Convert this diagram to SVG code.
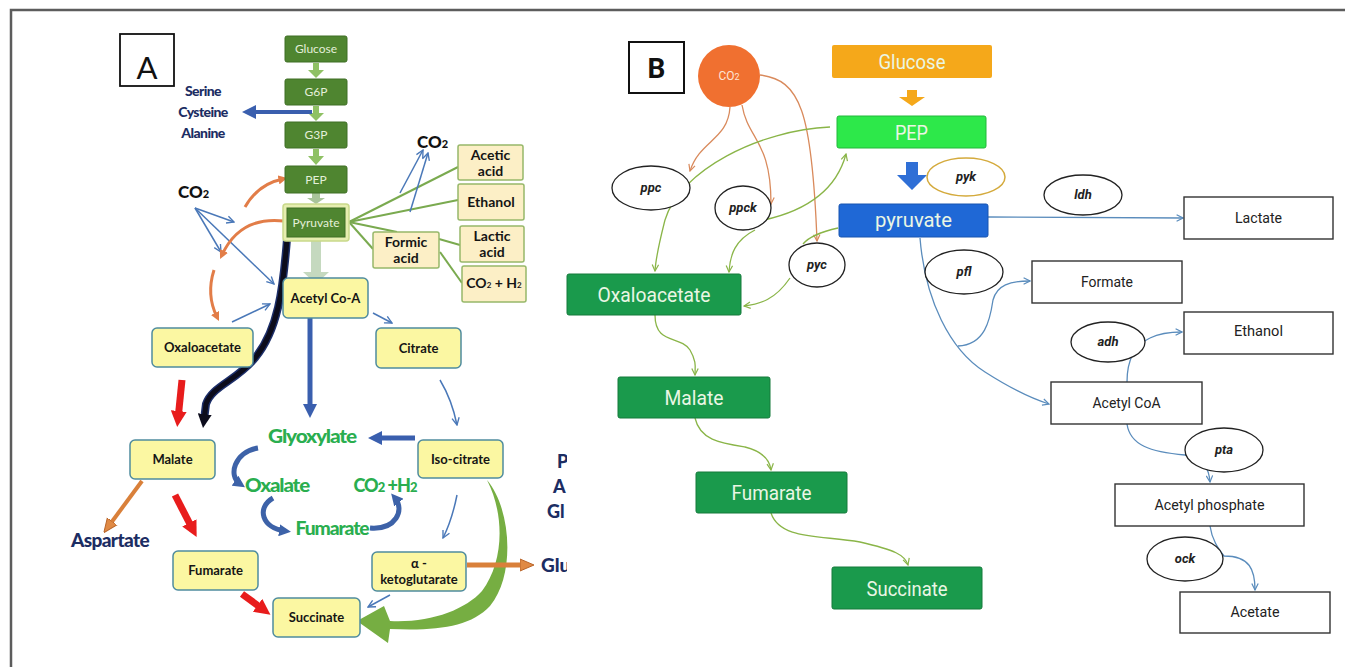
<svg xmlns="http://www.w3.org/2000/svg" width="1345" height="667" viewBox="0 0 1345 667">
<style>
.fa{font-family:"Lato","Liberation Sans",sans-serif}
.fb{font-family:"Roboto","Liberation Sans",sans-serif}
.gbox{fill:#4f8530;stroke:#3f6e25;stroke-width:1}
.gtxt{fill:#e4efd9;font-size:12px;text-anchor:middle}
.ybox{fill:#fbf7a2;stroke:#4f8c9e;stroke-width:1.5}
.ytxt{fill:#151515;font-size:13px;font-weight:bold;text-anchor:middle}
.cbox{fill:#fcefc6;stroke:#97b86a;stroke-width:1.5}
.ctxt{fill:#151515;font-size:14px;font-weight:bold;text-anchor:middle}
.navy{fill:#1c2d63;font-weight:900;text-anchor:middle}
.grn{fill:#2aae4f;font-weight:900;font-size:18px;text-anchor:middle;letter-spacing:-1px}
.bgreen{fill:#1a9a4c;stroke:#147a3b;stroke-width:1}
.btxt{fill:#eaf6e4;font-size:21px;text-anchor:middle}
.wbox{fill:#ffffff;stroke:#333;stroke-width:1.4}
.wtxt{fill:#222;font-size:15px;text-anchor:middle}
.ell{fill:#ffffff;stroke:#222;stroke-width:1.3}
.etxt{fill:#222;font-size:13px;font-style:italic;font-weight:bold;text-anchor:middle}
.thinblue{fill:none;stroke:#4a78b8;stroke-width:1.5}
.glin{fill:none;stroke:#7aaa4f;stroke-width:2}
.og{fill:none;stroke:#d98a5c;stroke-width:1.3}
.gg{fill:none;stroke:#8ab548;stroke-width:1.3}
.bb{fill:none;stroke:#5a8cbc;stroke-width:1.3}
</style>
<defs>
<marker id="mThinBlue" viewBox="0 0 10 10" markerWidth="9" markerHeight="9" refX="9" refY="5" orient="auto" markerUnits="userSpaceOnUse"><path d="M1,1 L9,5 L1,9" fill="none" stroke="#4a78b8" stroke-width="1.5"/></marker>
<marker id="mOg" viewBox="0 0 10 10" markerWidth="8" markerHeight="8" refX="9" refY="5" orient="auto" markerUnits="userSpaceOnUse"><path d="M1,1 L9,5 L1,9" fill="none" stroke="#d98a5c" stroke-width="1.5"/></marker>
<marker id="mGg" viewBox="0 0 10 10" markerWidth="8" markerHeight="8" refX="9" refY="5" orient="auto" markerUnits="userSpaceOnUse"><path d="M1,1 L9,5 L1,9" fill="none" stroke="#8ab548" stroke-width="1.5"/></marker>
<marker id="mBb" viewBox="0 0 10 10" markerWidth="8" markerHeight="8" refX="9" refY="5" orient="auto" markerUnits="userSpaceOnUse"><path d="M1,1 L9,5 L1,9" fill="none" stroke="#5a8cbc" stroke-width="1.5"/></marker>
<marker id="mRed" viewBox="0 0 16 16" markerWidth="16" markerHeight="16" refX="8" refY="8" orient="auto" markerUnits="userSpaceOnUse"><path d="M0,0 L16,8 L0,16 Z" fill="#e81c1c"/></marker>
<marker id="mBlueT" viewBox="0 0 14 14" markerWidth="14" markerHeight="14" refX="7" refY="7" orient="auto" markerUnits="userSpaceOnUse"><path d="M0,0 L14,7 L0,14 Z" fill="#3a5fae"/></marker>
<marker id="mBlueC" viewBox="0 0 12 12" markerWidth="12" markerHeight="12" refX="6" refY="6" orient="auto" markerUnits="userSpaceOnUse"><path d="M0,0 L12,6 L0,12 Z" fill="#3d62a8"/></marker>
<marker id="mOrA" viewBox="0 0 14 14" markerWidth="14" markerHeight="14" refX="7" refY="7" orient="auto" markerUnits="userSpaceOnUse"><path d="M0,1 L14,7 L0,13 Z" fill="#e08a45" stroke="#b8652a" stroke-width="1"/></marker>
<marker id="mOrArc" viewBox="0 0 10 10" markerWidth="9" markerHeight="9" refX="5" refY="5" orient="auto" markerUnits="userSpaceOnUse"><path d="M0,0 L10,5 L0,10 Z" fill="#e27d48"/></marker>
<marker id="mBlack" viewBox="0 0 14 14" markerWidth="14" markerHeight="14" refX="6" refY="7" orient="auto" markerUnits="userSpaceOnUse"><path d="M0,0 L14,7 L0,14 Z" fill="#0c0c1c"/></marker>
<clipPath id="clipA"><rect x="0" y="0" width="567" height="667"/></clipPath>
</defs>

<rect x="0" y="0" width="1345" height="667" fill="#ffffff"/>
<g id="frame" fill="none" stroke="#5c5c5c" stroke-width="2.5">
<path d="M11,667 L11,10 L1345,10"/>
</g>

<!-- ================= PANEL A ================= -->
<g id="labelA"><rect x="120" y="34" width="54" height="52" fill="#fff" stroke="#111" stroke-width="1.8"/><text x="147" y="79" class="fa" font-size="31" text-anchor="middle" fill="#111">A</text></g>

<g id="connectorsA">
<path d="M313,63 L319,63 L319,70 L324,70 L316,78 L308,70 L313,70 Z" fill="#8fc164"/>
<path d="M313,106 L319,106 L319,113 L324,113 L316,121 L308,113 L313,113 Z" fill="#8fc164"/>
<path d="M313,149 L319,149 L319,156 L324,156 L316,165 L308,156 L313,156 Z" fill="#8fc164"/>
<path d="M312,193 L320,193 L320,198 L325,198 L316,204 L307,198 L312,198 Z" fill="#a9c49a"/>
<line x1="312" y1="112" x2="249" y2="112" stroke="#3a5fae" stroke-width="4" marker-end="url(#mBlueT)"/>
<path d="M311,241 L321,241 L321,272 L329,272 L316,284 L303,272 L311,272 Z" fill="#c5d9bf"/>
<line x1="349" y1="222" x2="458" y2="167" class="glin"/>
<line x1="349" y1="222" x2="458" y2="200" class="glin"/>
<line x1="349" y1="222" x2="397" y2="232" class="glin"/>
<line x1="349" y1="222" x2="373" y2="249" class="glin"/>
<line x1="439" y1="239" x2="460" y2="245" class="glin"/>
<line x1="440" y1="252" x2="462" y2="283" class="glin"/>
<line x1="400" y1="193" x2="423" y2="150" class="thinblue" marker-end="url(#mThinBlue)"/>
<line x1="410" y1="212" x2="428" y2="153" class="thinblue" marker-end="url(#mThinBlue)"/>
<line x1="195" y1="208" x2="234" y2="222" class="thinblue" marker-end="url(#mThinBlue)"/>
<line x1="195" y1="208" x2="221" y2="252" class="thinblue" marker-end="url(#mThinBlue)"/>
<line x1="195" y1="208" x2="274" y2="284" class="thinblue" marker-end="url(#mThinBlue)"/>
<line x1="232" y1="322" x2="270" y2="304" class="thinblue" marker-end="url(#mThinBlue)"/>
<path d="M245,207 Q258,184 283,179" fill="none" stroke="#e27d48" stroke-width="3" marker-end="url(#mOrArc)"/>
<path d="M284,221 Q240,216 222,255" fill="none" stroke="#e27d48" stroke-width="3" marker-end="url(#mOrArc)"/>
<path d="M214,270 Q206,295 217,317" fill="none" stroke="#e27d48" stroke-width="3" marker-end="url(#mOrArc)"/>
<path d="M287,239 C283,290 278,330 255,358 C236,381 212,386 206,404 L204,420" fill="none" stroke="#1d2f6a" stroke-width="8"/>
<path d="M287,239 C283,290 278,330 255,358 C236,381 212,386 206,404 L204,420" fill="none" stroke="#0c0c1c" stroke-width="5" marker-end="url(#mBlack)"/>
<line x1="182" y1="380" x2="178" y2="419" stroke="#e81c1c" stroke-width="7" marker-end="url(#mRed)"/>
<line x1="175" y1="495" x2="193" y2="530" stroke="#e81c1c" stroke-width="7" marker-end="url(#mRed)"/>
<line x1="242" y1="594" x2="264" y2="610" stroke="#e81c1c" stroke-width="7" marker-end="url(#mRed)"/>
<line x1="142" y1="481" x2="108" y2="527" stroke="#d9803a" stroke-width="4" marker-end="url(#mOrA)"/>
<line x1="373" y1="313" x2="392" y2="323" class="thinblue" marker-end="url(#mThinBlue)"/>
<path d="M440,380 Q452,400 457,425" class="thinblue" marker-end="url(#mThinBlue)"/>
<path d="M457,495 Q452,520 443,538" class="thinblue" marker-end="url(#mThinBlue)"/>
<line x1="390" y1="595" x2="368" y2="607" class="thinblue" marker-end="url(#mThinBlue)"/>
<line x1="310" y1="307" x2="310" y2="411" stroke="#3a5fae" stroke-width="5" marker-end="url(#mBlueT)"/>
<line x1="415" y1="438" x2="375" y2="438" stroke="#3a5fae" stroke-width="5" marker-end="url(#mBlueT)"/>
<path d="M258,448 C234,452 228,476 240,484" fill="none" stroke="#3d62a8" stroke-width="5" marker-end="url(#mBlueC)"/>
<path d="M273,498 C256,508 262,528 285,531" fill="none" stroke="#3d62a8" stroke-width="5" marker-end="url(#mBlueC)"/>
<path d="M370,528 C396,530 405,510 395,498" fill="none" stroke="#3d62a8" stroke-width="5" marker-end="url(#mBlueC)"/>
<path d="M487,480 C511,508 516,575 490,606 C470,627 438,631 390,629 L388,643 L357,621 L384,606 L390,621 C430,623 465,610 482,591 C504,562 505,515 487,480 Z" fill="#76ae42"/>
<line x1="467" y1="565" x2="527" y2="565" stroke="#d9803a" stroke-width="5" marker-end="url(#mOrA)"/>
</g>

<g id="a-glucose"><rect x="285" y="36" width="62" height="26" rx="2" class="gbox"/><text x="316" y="53" class="fa gtxt">Glucose</text></g>
<g id="a-g6p"><rect x="285" y="79" width="62" height="26" rx="2" class="gbox"/><text x="316" y="96" class="fa gtxt">G6P</text></g>
<g id="a-g3p"><rect x="285" y="122" width="62" height="26" rx="2" class="gbox"/><text x="316" y="139" class="fa gtxt">G3P</text></g>
<g id="a-pep"><rect x="285" y="166" width="62" height="27" rx="2" class="gbox"/><text x="316" y="184" class="fa gtxt">PEP</text></g>
<g id="a-pyruvate"><rect x="283" y="204" width="66" height="37" rx="3" fill="#e6eeb0" stroke="#c9d98a" stroke-width="1.5"/><rect x="287" y="208" width="58" height="29" class="gbox"/><text x="316" y="227" class="fa gtxt" font-size="13">Pyruvate</text></g>

<g id="a-serine" class="fa"><text x="203" y="96" class="navy" font-size="14" letter-spacing="-0.6">Serine</text><text x="203" y="117" class="navy" font-size="14" letter-spacing="-0.6">Cysteine</text><text x="203" y="138" class="navy" font-size="14" letter-spacing="-0.6">Alanine</text></g>
<g id="a-co2-top"><text x="417" y="148" class="fa" font-size="17" font-weight="900" fill="#111">CO<tspan font-size="11">2</tspan></text></g>
<g id="a-co2-left"><text x="178" y="198" class="fa" font-size="17" font-weight="900" fill="#111">CO<tspan font-size="11">2</tspan></text></g>

<g id="a-acetic"><rect x="458" y="145" width="65" height="35" rx="2" class="cbox"/><text x="490.5" y="160" class="fa ctxt">Acetic</text><text x="490.5" y="176" class="fa ctxt">acid</text></g>
<g id="a-ethanol"><rect x="458" y="184" width="66" height="36" rx="2" class="cbox"/><text x="491" y="207" class="fa ctxt">Ethanol</text></g>
<g id="a-lactic"><rect x="460" y="226" width="64" height="36" rx="2" class="cbox"/><text x="492" y="241" class="fa ctxt">Lactic</text><text x="492" y="257" class="fa ctxt">acid</text></g>
<g id="a-co2h2"><rect x="462" y="266" width="64" height="36" rx="2" class="cbox"/><text x="494" y="288" class="fa ctxt" font-size="11">CO<tspan font-size="8">2</tspan> + H<tspan font-size="8">2</tspan></text></g>
<g id="a-formic"><rect x="373" y="232" width="66" height="36" rx="2" class="cbox"/><text x="406" y="247" class="fa ctxt">Formic</text><text x="406" y="263" class="fa ctxt">acid</text></g>

<g id="a-acetylcoa"><rect x="283" y="278" width="85" height="40" rx="5" class="ybox"/><text x="325.5" y="303" class="fa ytxt">Acetyl Co-A</text></g>
<g id="a-oxaloacetate"><rect x="152" y="328" width="101" height="39" rx="5" class="ybox"/><text x="202.5" y="352" class="fa ytxt">Oxaloacetate</text></g>
<g id="a-citrate"><rect x="376" y="328" width="85" height="40" rx="5" class="ybox"/><text x="418.5" y="353" class="fa ytxt">Citrate</text></g>
<g id="a-malate"><rect x="130" y="440" width="85" height="39" rx="5" class="ybox"/><text x="172.5" y="464" class="fa ytxt">Malate</text></g>
<g id="a-isocitrate"><rect x="418" y="440" width="85" height="38" rx="5" class="ybox"/><text x="460.5" y="464" class="fa ytxt">Iso-citrate</text></g>
<g id="a-fumarate"><rect x="173" y="551" width="85" height="39" rx="5" class="ybox"/><text x="215.5" y="575" class="fa ytxt">Fumarate</text></g>
<g id="a-akg"><rect x="372" y="552" width="94" height="39" rx="5" class="ybox"/><text x="419" y="568" class="fa ytxt">α -</text><text x="419" y="584" class="fa ytxt">ketoglutarate</text></g>
<g id="a-succinate"><rect x="273" y="598" width="87" height="39" rx="5" class="ybox"/><text x="316.5" y="622" class="fa ytxt">Succinate</text></g>

<g id="a-aspartate"><text x="110" y="547" class="fa navy" font-size="19" letter-spacing="-0.6">Aspartate</text></g>
<g id="a-glyoxylate"><text x="312" y="443" class="fa grn" textLength="88" lengthAdjust="spacingAndGlyphs">Glyoxylate</text></g>
<g id="a-oxalate"><text x="277" y="492" class="fa grn" textLength="64" lengthAdjust="spacingAndGlyphs">Oxalate</text></g>
<g id="a-co2h2-green"><text x="385" y="492" class="fa grn">CO<tspan font-size="13">2</tspan> +H<tspan font-size="13">2</tspan></text></g>
<g id="a-fumarate-green"><text x="332" y="535" class="fa grn" textLength="73" lengthAdjust="spacingAndGlyphs">Fumarate</text></g>

<g id="a-clipped" clip-path="url(#clipA)" class="fa">
<text x="557" y="468" font-size="18" font-weight="900" fill="#1c2d63">P</text>
<text x="553" y="493" font-size="18" font-weight="900" fill="#1c2d63">A</text>
<text x="547" y="518" font-size="18" font-weight="900" fill="#1c2d63">Gl</text>
<text x="541" y="572" font-size="19" font-weight="900" fill="#1c2d63">Glu</text>
</g>

<!-- ================= PANEL B ================= -->
<g id="labelB"><rect x="629" y="42" width="55" height="51" fill="#fff" stroke="#111" stroke-width="2"/><text x="656.5" y="78" class="fb" font-size="28" font-weight="bold" text-anchor="middle" fill="#111">B</text></g>

<g id="connectorsB">
<path d="M907,90 L917,90 L917,97 L925,97 L912,106 L899,97 L907,97 Z" fill="#f5a81a"/>
<path d="M906,162 L918,162 L918,175 L927,175 L912,190 L897,175 L906,175 Z" fill="#2f6fd6"/>
<path d="M730,107 C728,140 700,140 690,171" class="og" marker-end="url(#mOg)"/>
<path d="M742,105 C748,140 771,140 771,204" class="og" marker-end="url(#mOg)"/>
<path d="M760,75 C800,80 812,110 817,241" class="og" marker-end="url(#mOg)"/>
<path d="M830,127 C760,130 680,170 665,220 C660,240 656,255 655,271" class="gg" marker-end="url(#mGg)"/>
<path d="M764,220 C800,212 835,195 846,154" class="gg" marker-end="url(#mGg)"/>
<path d="M755,230 C735,240 730,255 729,272" class="gg" marker-end="url(#mGg)"/>
<path d="M838,228 C820,232 808,238 803,244" class="gg"/>
<path d="M790,278 C775,300 760,304 744,306" class="gg" marker-end="url(#mGg)"/>
<path d="M655,315 C655,345 680,335 690,350 C697,362 695,368 695,375" class="gg" marker-end="url(#mGg)"/>
<path d="M695,418 C700,440 720,443 745,447 C765,452 770,462 771,470" class="gg" marker-end="url(#mGg)"/>
<path d="M771,513 C780,540 820,535 860,542 C895,550 905,555 908,565" class="gg" marker-end="url(#mGg)"/>
<path d="M988,217 L1183,218" class="bb" marker-end="url(#mBb)"/>
<path d="M920,238 C925,300 950,350 985,372 C1010,388 1030,398 1049,404" class="bb" marker-end="url(#mBb)"/>
<path d="M958,346 C985,345 990,320 993,300 C997,285 1010,281 1030,281" class="bb" marker-end="url(#mBb)"/>
<path d="M1127,382 C1127,360 1135,345 1150,338 C1160,333 1170,332 1182,332" class="bb" marker-end="url(#mBb)"/>
<path d="M1127,424 C1130,445 1150,452 1185,455 C1205,458 1209,470 1210,482" class="bb" marker-end="url(#mBb)"/>
<path d="M1210,526 C1212,540 1218,548 1224,556 C1250,556 1255,570 1255,590" class="bb" marker-end="url(#mBb)"/>
</g>

<g id="b-co2"><circle cx="729" cy="76" r="31" fill="#f07030"/><text x="729" y="80" class="fb" font-size="12" text-anchor="middle" fill="#fde4d4">CO<tspan font-size="9">2</tspan></text></g>
<g id="b-glucose"><rect x="832" y="45" width="160" height="33" rx="2" fill="#f5a81a"/><text x="912" y="69" class="fb btxt" font-size="20" fill="#fff4dc" textLength="67" lengthAdjust="spacingAndGlyphs">Glucose</text></g>
<g id="b-pep"><rect x="837" y="116" width="149" height="32" rx="2" fill="#2de84a" stroke="#22b83a" stroke-width="1"/><text x="911.5" y="140" class="fb btxt" font-size="20" textLength="33" lengthAdjust="spacingAndGlyphs">PEP</text></g>
<g id="b-pyruvate"><rect x="839" y="204" width="149" height="33" rx="2" fill="#1f68d6" stroke="#1854b0" stroke-width="1"/><text x="913.5" y="227" class="fb btxt" font-size="20" textLength="77" lengthAdjust="spacingAndGlyphs">pyruvate</text></g>

<g id="b-ppc"><ellipse cx="651" cy="188" rx="39" ry="22" class="ell"/><text x="651" y="192" class="fb etxt">ppc</text></g>
<g id="b-ppck"><ellipse cx="743" cy="208" rx="28" ry="22" class="ell"/><text x="743" y="212" class="fb etxt">ppck</text></g>
<g id="b-pyc"><ellipse cx="817" cy="265" rx="28" ry="22" class="ell"/><text x="817" y="269" class="fb etxt">pyc</text></g>
<g id="b-pyk"><ellipse cx="966" cy="177" rx="39" ry="19" fill="#fff" stroke="#d4aa3c" stroke-width="1.5"/><text x="966" y="181" class="fb etxt">pyk</text></g>
<g id="b-pfl"><ellipse cx="964" cy="272" rx="39" ry="22" class="ell"/><text x="964" y="276" class="fb etxt">pfl</text></g>
<g id="b-ldh"><ellipse cx="1083" cy="195" rx="39" ry="20" class="ell"/><text x="1083" y="199" class="fb etxt">ldh</text></g>
<g id="b-adh"><ellipse cx="1108" cy="342" rx="37" ry="20" class="ell"/><text x="1108" y="346" class="fb etxt">adh</text></g>
<g id="b-pta"><ellipse cx="1224" cy="450" rx="39" ry="22" class="ell"/><text x="1224" y="454" class="fb etxt">pta</text></g>
<g id="b-ock"><ellipse cx="1185" cy="559" rx="38" ry="22" class="ell"/><text x="1185" y="563" class="fb etxt">ock</text></g>

<g id="b-oxaloacetate"><rect x="567" y="274" width="174" height="41" rx="2" class="bgreen"/><text x="654" y="302" class="fb btxt" textLength="113" lengthAdjust="spacingAndGlyphs">Oxaloacetate</text></g>
<g id="b-malate"><rect x="618" y="377" width="152" height="41" rx="2" class="bgreen"/><text x="694" y="405" class="fb btxt" textLength="59" lengthAdjust="spacingAndGlyphs">Malate</text></g>
<g id="b-fumarate"><rect x="696" y="472" width="151" height="41" rx="2" class="bgreen"/><text x="771.5" y="500" class="fb btxt" textLength="80" lengthAdjust="spacingAndGlyphs">Fumarate</text></g>
<g id="b-succinate"><rect x="832" y="567" width="150" height="42" rx="2" class="bgreen"/><text x="907" y="596" class="fb btxt" textLength="81" lengthAdjust="spacingAndGlyphs">Succinate</text></g>

<g id="b-lactate"><rect x="1184" y="197" width="149" height="42" class="wbox"/><text x="1258.5" y="223" class="fb wtxt" textLength="47" lengthAdjust="spacingAndGlyphs">Lactate</text></g>
<g id="b-formate"><rect x="1032" y="261" width="150" height="42" class="wbox"/><text x="1107" y="287" class="fb wtxt" textLength="52" lengthAdjust="spacingAndGlyphs">Formate</text></g>
<g id="b-ethanol"><rect x="1184" y="312" width="149" height="42" class="wbox"/><text x="1258.5" y="336" class="fb wtxt" textLength="49" lengthAdjust="spacingAndGlyphs">Ethanol</text></g>
<g id="b-acetylcoa"><rect x="1051" y="382" width="151" height="42" class="wbox"/><text x="1126.5" y="408" class="fb wtxt" textLength="68" lengthAdjust="spacingAndGlyphs">Acetyl CoA</text></g>
<g id="b-acetylphosphate"><rect x="1115" y="484" width="189" height="42" class="wbox"/><text x="1209.5" y="510" class="fb wtxt" textLength="110" lengthAdjust="spacingAndGlyphs">Acetyl phosphate</text></g>
<g id="b-acetate"><rect x="1180" y="592" width="150" height="41" class="wbox"/><text x="1255" y="617" class="fb wtxt" textLength="49" lengthAdjust="spacingAndGlyphs">Acetate</text></g>
</svg>
